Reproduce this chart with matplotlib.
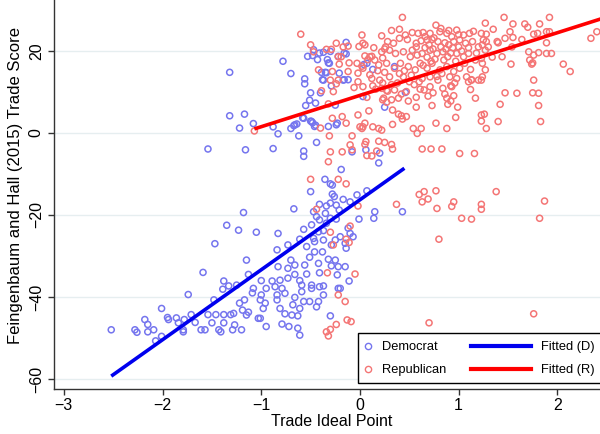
import numpy as np
import matplotlib
matplotlib.use("Agg")
import matplotlib.pyplot as plt
from matplotlib.lines import Line2D
from matplotlib.patches import Rectangle

plt.rcParams['font.family'] = ['Liberation Sans', 'DejaVu Sans']

# Democrats, lower cluster (x < -1)
dem_low_left = [(-2.52,-48),(-2.28,-48),(-2.26,-48.6),(-2.18,-45.5),(-2.15,-46.7),(-2.15,-48.5),(-2.09,-48),
    (-2.07,-50.7),(-2.01,-42.8),(-2.01,-49.6),(-1.95,-45),(-1.94,-45.5),(-1.86,-45.1),(-1.84,-46.3),(-1.79,-48),
    (-1.79,-48.5),(-1.78,-45.5),(-1.74,-39.4),(-1.71,-44.3),(-1.67,-46.2),(-1.61,-48),(-1.59,-34),(-1.57,-48),
    (-1.54,-44.3),(-1.50,-46.3),(-1.48,-40.7),(-1.47,-27),(-1.46,-44.3),(-1.43,-48),(-1.41,-48.5),(-1.38,-46.3),
    (-1.38,-44.3),(-1.38,-36.1),(-1.39,-38.1),(-1.35,-22.5),(-1.33,-37.3),(-1.31,-44.3),(-1.28,-44),(-1.27,-46.8),
    (-1.25,-37.1),(-1.23,-23.7),(-1.22,-41.5),(-1.20,-48),(-1.19,-43.2),(-1.17,-40.7),(-1.18,-19.4),(-1.15,-31),
    (-1.15,-44.4),(-1.13,-34.5),(-1.08,-37.9),(-1.05,-24.2),(-1.03,-45.2),(-1.09,-39),(-1.13,-43.7),(-1.29,-48)]

# Democrats, lower cluster (x >= -1)
dem_low_right = [(-0.355,-11.3),(-0.30,-12.4),(-0.28,-12.7),(-0.50,-14.3),(-0.28,-14.9),(-0.26,-15.5),(-0.17,-16.2),
    (-0.10,-16.8),(-0.03,-15.1),(0.07,-14.1),(0.15,-19.2),(0.14,-20.8),(-0.01,-21),(0.43,-19.2),(-0.67,-18.5),
    (-0.41,-17.4),(-0.34,-17.8),(-0.30,-17.1),(-0.24,-17.6),(-0.21,-18.8),(-0.47,-19.2),(-0.44,-20.4),(-0.41,-21.2),
    (-0.35,-19.6),(-0.30,-20.8),(-0.24,-21),(-0.34,-22),(-0.49,-22.4),(-0.42,-24.1),(-0.37,-23.8),(-0.12,-23.2),
    (-0.10,-24.5),(-0.07,-25.3),(-0.20,-25.3),(-0.25,-26.1),(-0.47,-25.7),(-0.57,-23.5),(-0.61,-25.9),(-0.83,-24.5),
    (-0.84,-28.5),(-0.73,-27.3),(-0.54,-27.7),(-0.46,-26.5),(-0.37,-26.1),(-0.29,-27.3),(-0.14,-28.1),(-0.15,-26.9),
    (-0.38,-29),(-0.46,-29),(-0.51,-30.3),(-0.70,-31),(-0.83,-32.6),(-0.73,-33),(-0.66,-32.2),(-0.56,-32.2),
    (-0.42,-31.8),(-0.32,-30.8),(-0.25,-31),(-0.29,-32.4),(-0.22,-32.6),(-0.15,-32.6),(-0.54,-34.4),(-0.41,-34.1),
    (-0.23,-34.6),(-0.66,-34.5),(-1.00,-36),(-0.89,-36.1),(-0.81,-35.9),(-0.73,-35.4),(-0.61,-36),(-0.95,-37.9),
    (-0.86,-37.5),(-0.79,-37.9),(-0.59,-37.1),(-0.49,-37.1),(-0.49,-37.9),(-0.41,-37.5),(-0.37,-37.3),(-0.22,-37.9),
    (-0.20,-37.9),(-0.11,-36.1),(-1.00,-39.5),(-0.84,-39.5),(-0.76,-39.1),(-0.59,-38.7),(-0.37,-39.5),(-1.01,-40.7),
    (-0.96,-41.5),(-0.84,-40.7),(-0.66,-40.1),(-0.57,-41.1),(-0.51,-41.1),(-0.42,-41.1),(-0.98,-42.8),(-0.81,-42.8),
    (-0.68,-41.9),(-0.61,-42.8),(-0.44,-42.4),(-0.76,-44.1),(-0.69,-44.4),(-0.63,-44.6),(-0.30,-44.6),(-1.01,-45.2),
    (-0.95,-47.2),(-0.79,-46.6),(-0.72,-47.2),(-0.63,-47.6),(-0.61,-49.3)]

# Democrats, upper group
dem_high = [(-1.32,14.8),(-1.32,4.2),(-1.17,4.6),(-1.22,1.2),(-1.08,2.3),(-1.54,-3.9),(-1.16,-4.1),(-0.88,-3.8),
    (-0.88,1.5),(-0.83,-0.2),(-0.78,17.5),(-0.70,14.5),(-0.67,1.8),(-0.64,2.2),(-0.62,-0.7),(-0.58,3.7),(-0.56,13.2),
    (-0.56,12),(-0.57,-4.4),(-0.57,-5.7),(-0.55,6.7),(-0.53,18.7),(-0.51,8),(-0.50,9.8),(-0.48,18.9),(-0.49,2.8),
    (-0.47,20.3),(-0.46,1.6),(-0.45,7.3),(-0.44,-2.3),(-0.43,17.9),(-0.41,19.5),(-0.40,9.8),(-0.39,14.8),(-0.38,13),
    (-0.35,14.8),(-0.33,17.9),(-0.32,17.1),(-0.32,1.6),(-0.30,19.9),(-0.29,11.5),(-0.25,6.8),(-0.23,2.4),(-0.22,18.7),
    (-0.21,14.6),(-0.16,13),(-0.16,19.5),(-0.14,22.1),(-0.12,13),(0.03,8.9),(0.04,16.7),(0.06,-4.1),(0.07,17),
    (0.13,15.5),(0.19,-7.3),(0.20,-4.9),(0.25,6.3),(0.46,9.9),(-0.37,19.7),(-0.14,19.3),(-0.31,17),(-0.34,14.7),
    (-0.37,12.9),(-0.17,12.9),(-0.50,2.9),(-0.48,2.5),(-0.45,1.9),(-0.24,2),(-0.66,2),(-0.70,1.1),(-0.08,-4.6),
    (-0.19,-8.9),(0.35,16.2),(-0.57,3.6)]

# Republicans, left part (x < 0)
rep_left = [(-0.60,24.1),(-0.50,21.5),(-0.47,19.8),(-0.34,20.4),(-0.29,20.4),(-0.24,21.9),(-0.17,21),(-0.12,21.2),
    (-0.22,18.6),(-0.19,18.6),(-0.21,16.8),(-0.11,17.1),(-0.42,15.4),(-0.28,15),(-0.22,12.9),(-0.24,12),(-0.30,12.9),
    (-0.39,10.3),(-0.27,10.1),(-0.06,11.1),(-0.02,12.5),(-0.02,14.6),(-0.03,17),(-0.12,15),(-0.32,7.1),(-0.28,3.6),
    (-0.18,4),(-0.14,2.4),(-0.02,4.4),(0.0,1.5),(-0.31,-0.7),(-0.08,-0.7),(-0.10,-2.9),(-0.30,-4.6),(-0.18,-4.6),
    (-0.08,-4.1),(-0.32,-7),(-1.07,0.5),(-0.40,1.2),(-0.01,21.1),
    (-0.50,-11.3),(-0.22,-11.3),(-0.14,-12.4),(-0.44,-18.6),(-0.02,-17.8),(-0.10,-22.7),(-0.30,-24.2),(-0.14,-25.9),
    (-0.11,-26.7),(-0.27,-27.3),(-0.33,-34.1),(-0.05,-34.4),(-0.22,-39.5),(-0.15,-41.1),(-0.13,-45.6),(-0.09,-46),
    (-0.24,-46.7),(-0.30,-47.9),(-0.34,-48.5),(-0.32,-49.5)]

# Republicans, dense core (0 < x < 1.25)
rep_core = [(0.43,28.2),(0.02,23.9),(0.03,21.9),(0.05,21.5),(0.22,23.7),(0.32,25),(0.40,25.3),(0.28,22.3),(0.34,21.9),
    (0.40,23.1),(0.46,23.9),(0.53,24.5),(0.59,24.3),(0.64,24.5),(0.57,21.9),(0.71,24.3),(0.77,26.3),(0.81,24.7),
    (0.88,24.3),(0.93,23.5),(0.98,25.1),(1.05,23.9),(1.11,24.3),(0.68,22.7),(0.73,22.8),(0.79,22.3),(0.86,22),
    (0.90,21.5),(0.95,22.3),(1.01,22.7),(1.07,21.9),(1.14,22.3),(1.20,21),(0.10,18.6),(0.15,17.8),(0.22,19.8),
    (0.30,20.2),(0.36,19.4),(0.44,19.8),(0.51,18.6),(0.57,21),(0.63,19.4),(0.71,20.2),(0.78,19.4),(0.84,19.8),
    (0.89,18.6),(0.98,19.4),(1.05,18.6),(1.10,19.4),(1.17,17.8),(0.19,16.6),(0.27,17),(0.35,15.8),(0.41,17),
    (0.49,16.2),(0.56,15.4),(0.61,17),(0.68,15.8),(0.73,17),(0.81,15.4),(0.88,16.2),(0.95,15),(1.01,15.8),
    (1.08,13.7),(1.13,12.9),(1.20,12.9),(0.03,15.8),(0.12,13.3),(0.20,12.9),(0.30,13.7),(0.44,13.7),(0.52,14.1),
    (0.63,13.3),(0.71,13.7),(0.79,12.9),(0.91,13.7),(0.98,13.3),(0.03,11.3),(0.13,11.5),(0.22,10.9),(0.35,10.5),
    (0.47,10.1),(0.61,10.7),(0.71,11.3),(0.84,10.9),(0.93,11.3),(1.10,12.5),(0.07,8.7),(0.24,8.5),(0.39,8.5),
    (0.57,8.7),(0.69,9),(0.88,8.5),(1.17,8.5),(0.92,11.5),
    (0.62,22.5),(0.66,20.8),(0.70,21.5),(0.74,20.5),(0.76,18),(0.72,17.5),(0.68,18.5),(0.64,16.5),(0.82,21),
    (0.85,17.8),(0.87,20.5),(0.92,19.5),(0.94,20.8),(0.97,17.5),(1.00,21),(1.03,20),(1.06,17),(0.83,14.5),
    (0.78,13.8),(0.60,12.5),(0.55,11.8),(0.50,12.5),(0.45,15.2),(0.40,14.5),(0.38,12.2),(0.32,11.8),(0.25,14.8),
    (0.18,15.2),(0.10,14.2),(0.05,18.8),(0.14,20.8),(0.26,21),(0.48,22.8),(0.53,20.2),(0.58,19),(0.66,23.5),
    (0.75,23.2),(0.82,25.5),(0.90,25),(1.00,24),(1.10,20.8),(1.15,24.8),(1.18,19.5),(1.24,17),(1.30,21),(1.34,18.5),
    (1.12,15.5),(0.96,12.2),(0.86,9.5),(0.65,10.5),(0.42,9.5),(0.28,10.2),
    (0.02,16.3),(0.08,17.9),(0.12,18.7),(0.23,18.3),(0.25,20.5),(0.16,10.7),(0.23,12.2),(0.27,10.4),(0.23,8.1),
    (0.32,8.1),(1.13,13),(1.12,10.6),(0.95,9.1),(0.74,9.8)]

# Republicans, lower band near zero
rep_mid = [(0.09,5.4),(0.05,2.4),(0.03,1.5),(0.02,1.1),(0.13,1.5),(0.19,1.1),(0.22,0.7),(0.33,2.1),(0.27,7.5),
    (0.33,5.6),(0.39,4.6),(0.42,4.2),(0.43,3.4),(0.47,4),(0.49,7.8),(0.57,6.3),(0.54,1.1),(0.58,-0.1),(0.62,1.1),
    (0.73,6.7),(0.77,2.4),(0.88,1.1),(0.89,7),(0.92,7.8),(0.99,6.3),(0.97,3.8),(1.23,4.4),(1.26,4.6),(1.23,2.9),
    (1.28,1.1),(1.40,2.8),(1.42,7),(1.81,6.7),(1.83,2.8),(0.06,-2.1),(0.05,-2.8),(0.19,-2),(0.25,-2.3),(0.32,-2.8),
    (0.33,-3.9),(0.17,-4.4),(0.07,-5.5),(0.12,-5.6),(0.63,-3.9),(0.72,-3.9),(0.83,-3.9),(1.01,-5),(1.16,-5)]

# Republicans, right part (x > 1.2)
rep_right = [(1.46,28.2),(1.92,28.2),(1.27,26.8),(1.35,25.3),(1.55,26.6),(1.67,26.6),(1.70,25.8),(1.82,26.6),
    (1.23,24.3),(1.28,24.1),(1.25,22.7),(1.28,22.3),(1.39,22.3),(1.40,22),(1.47,23.1),(1.52,24.7),(1.55,23.3),
    (1.64,22.8),(1.76,24.1),(1.80,24.3),(1.89,24.7),(1.92,24.7),(1.24,21.5),(1.27,20.2),(1.23,18.2),(1.54,21),
    (1.89,22),(1.44,18.6),(1.71,19.8),(1.76,19),(1.81,19.6),(1.89,19.4),(1.94,19.4),(1.72,17.8),(1.75,17.1),
    (1.74,16.8),(1.53,16.8),(2.06,16.8),(2.13,15),(1.27,15.4),(1.24,13.7),(1.23,12.9),(1.76,12.9),(1.47,9.8),
    (1.59,9.7),(1.75,9.8),(1.81,9.7),(2.34,23.1),(2.40,24.7)]

# Republicans, far below their fit
rep_low = [(0.60,-15),(0.65,-14.3),(0.77,-14.1),(0.69,-16.1),(0.63,-16.8),(0.37,-17.4),(0.95,-16.8),(0.93,-17.9),
    (1.23,-17.4),(1.23,-18.6),(1.38,-14.3),(1.87,-16.6),(0.78,-18.4),(1.03,-20.8),(1.13,-21),(1.82,-20.8),
    (0.80,-25.9),(1.76,-44.1),(0.70,-46.3)]

# fitted lines (endpoints)
fit_d_x = [-2.52, 0.45]
fit_d_y = [-59.3, -8.6]
fit_r_x = [-1.07, 2.45]
fit_r_y = [1.0, 27.9]

xticks = [-3, -2, -1, 0, 1, 2]
yticks = [-60, -40, -20, 0, 20]

dem = np.array(dem_low_left + dem_low_right + dem_high)
rep = np.array(rep_left + rep_core + rep_mid + rep_right + rep_low)

dem_col = '#7575ee'
rep_col = '#f47575'

fig = plt.figure(figsize=(6, 4.34), dpi=100)
ax = fig.add_axes([54/600, 45/434, 546/600, 389/434])

for yt in yticks:
    ax.axhline(yt, color='#e6eef0', lw=1.0, zorder=0)

ax.scatter(dem[:, 0], dem[:, 1], s=19, facecolors='none', edgecolors=dem_col, linewidths=1.1, zorder=2)
ax.scatter(rep[:, 0], rep[:, 1], s=19, facecolors='none', edgecolors=rep_col, linewidths=1.1, zorder=2)
ax.plot(fit_d_x, fit_d_y, color='#0000ee', lw=2.6, solid_capstyle='butt', zorder=3)
ax.plot(fit_r_x, fit_r_y, color='#ff0000', lw=2.6, solid_capstyle='butt', zorder=3)

ax.set_xlim(-3.10, 2.432)
ax.set_ylim(-62.44, 32.44)
ax.set_xticks(xticks)
ax.set_yticks(yticks)
ax.set_yticklabels([str(v).replace('-', '\u2212') for v in yticks], rotation=90, va='center')
for s in ['top', 'right']:
    ax.spines[s].set_visible(False)
for s in ['left', 'bottom']:
    ax.spines[s].set_color('#333333')
    ax.spines[s].set_linewidth(1.0)
ax.tick_params(direction='out', length=4.3, width=1.0, color='#333333', labelsize=11.5)
ax.tick_params(axis='x', pad=2)
ax.tick_params(axis='y', pad=3)

ax.set_xlabel('Trade Ideal Point', fontsize=11.5)
ax.set_ylabel('Feingenbaum and Hall (2015) Trade Score', fontsize=12)
ax.xaxis.set_label_coords(0.509, -0.064)
ax.yaxis.set_label_coords(-0.0568, 0.522)

# legend: frame plus two columns
ax.add_patch(Rectangle((0.5573, 0.0147), 0.46, 0.130, transform=ax.transAxes, fill=True,
                       facecolor='white', edgecolor='black', lw=1.0, clip_on=False, zorder=5))
h1 = [Line2D([], [], ls='none', marker='o', mfc='none', mec=dem_col, ms=4.5, mew=1.0),
      Line2D([], [], ls='none', marker='o', mfc='none', mec=rep_col, ms=4.5, mew=1.0)]
h2 = [Line2D([], [], color='#0000ee', lw=3.0), Line2D([], [], color='#ff0000', lw=3.0)]
leg1 = ax.legend(h1, ['Democrat', 'Republican'], loc='upper left', bbox_to_anchor=(0.566, 0.1234),
                 frameon=False, fontsize=9.3, handlelength=0.8, handletextpad=0.65, borderpad=0,
                 labelspacing=0.86, borderaxespad=0)
leg1.set_zorder(6)
ax.add_artist(leg1)
leg2 = ax.legend(h2, ['Fitted (D)', 'Fitted (R)'], loc='upper left', bbox_to_anchor=(0.7632, 0.1234),
                 frameon=False, fontsize=9.3, handlelength=4.65, handletextpad=0.78, borderpad=0,
                 labelspacing=0.86, borderaxespad=0)
leg2.set_zorder(6)

fig.savefig('out.png', dpi=100)
